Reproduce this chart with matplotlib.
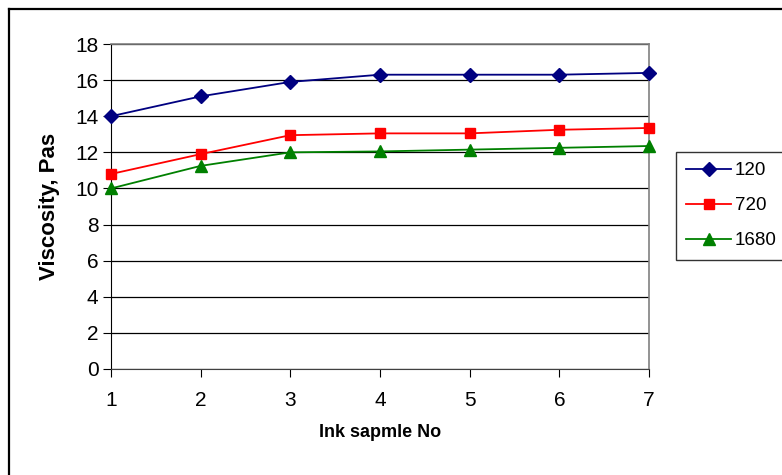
import matplotlib.pyplot as plt
from matplotlib.lines import Line2D

plt.rcParams['font.family'] = ['Liberation Sans', 'DejaVu Sans']

# ink samples and viscosity readings (Pa s) at three shear settings
samples = [1, 2, 3, 4, 5, 6, 7]
visc_120 = [14.0, 15.1, 15.9, 16.3, 16.3, 16.3, 16.4]
visc_720 = [10.8, 11.9, 12.95, 13.05, 13.05, 13.25, 13.35]
visc_1680 = [10.0, 11.25, 12.0, 12.05, 12.15, 12.25, 12.35]
labels = ['120', '720', '1680']

W, H = 782, 475
fig = plt.figure(figsize=(W / 100, H / 100), dpi=100)
ax = fig.add_axes([111 / W, 1 - 369 / H, (649 - 111) / W, (369 - 44) / H])

ax.plot(samples, visc_120, color='#000080', marker='D', markersize=7.5, lw=1.3, label=labels[0], clip_on=False, zorder=5)
ax.plot(samples, visc_720, color='#FF0000', marker='s', markersize=7, lw=1.3, label=labels[1], clip_on=False, zorder=5)
ax.plot(samples, visc_1680, color='#008000', marker='^', markersize=8, lw=1.3, label=labels[2], clip_on=False, zorder=5)

ax.set_xlim(1, 7)
ax.set_ylim(0, 18)
ax.set_xticks(samples)
ax.set_yticks(range(0, 19, 2))
ax.yaxis.grid(True, color='black', lw=0.9)
ax.set_axisbelow(True)

for side in ['top', 'right']:
    ax.spines[side].set_color('#808080')
    ax.spines[side].set_linewidth(1.2)
ax.spines['left'].set_color('black')
ax.spines['bottom'].set_color('#404040')

ax.tick_params(axis='both', direction='out', length=6, labelsize=15, colors='black')
ax.tick_params(axis='x', pad=10)
ax.tick_params(axis='y', pad=3)

ax.set_xlabel('Ink sapmle No', fontsize=13, fontweight='bold', labelpad=10)
ax.set_ylabel('Viscosity, Pas', fontsize=16, fontweight='bold', labelpad=11)

leg = fig.legend(loc='upper left', bbox_to_anchor=(676 / W, 1 - 152 / H),
                 fontsize=13.5, frameon=True, fancybox=False, handlelength=2.4,
                 handletextpad=0.2, labelspacing=0.95, borderpad=0.55,
                 borderaxespad=0)
leg.get_frame().set_edgecolor('black')
leg.get_frame().set_linewidth(1.0)

# outer chart frame
fig.add_artist(Line2D([9 / W, 1], [1 - 9 / H, 1 - 9 / H], color='black', lw=1.6, transform=fig.transFigure))
fig.add_artist(Line2D([9 / W, 9 / W], [1 - 9 / H, 0], color='black', lw=1.6, transform=fig.transFigure))

fig.savefig('out.png', dpi=100)
